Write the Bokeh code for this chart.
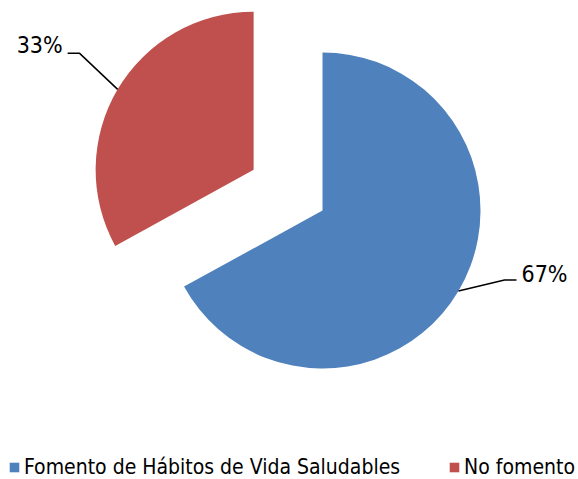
import math
from bokeh.plotting import figure
from bokeh.models import Range1d, Legend, LegendItem
from bokeh.core.properties import value
from bokeh.embed import file_html
from bokeh.resources import INLINE

categories = ["Fomento de Hábitos de Vida Saludables", "No fomento"]
shares = [67, 33]
colors = ["#4F81BD", "#C0504D"]

FONT = "DejaVu Sans Condensed"

W, H = 578, 479
p = figure(width=W, height=H, output_backend="svg", toolbar_location=None,
           x_range=Range1d(0, W), y_range=Range1d(0, H),
           min_border=0, outline_line_color=None)
p.axis.visible = False
p.grid.visible = False
p.background_fill_color = "white"

# layout (reference pixel coordinates -> data: y = 479 - y_ref)
cx, cy = 322, 479 - 210
R = 158
explode = [0, 80]
total = sum(shares)

renderers = []
start = 90.0
for i, (cat, v, col) in enumerate(zip(categories, shares, colors)):
    sweep = 360.0 * v / total
    end = start - sweep
    mid = math.radians((start + end) / 2)
    ox = cx + explode[i] * math.cos(mid)
    oy = cy + explode[i] * math.sin(mid)
    r = p.wedge(x=[ox], y=[oy], radius=R, start_angle=[math.radians(end)],
                end_angle=[math.radians(start)], fill_color=col, line_color=None)
    renderers.append(r)
    # leader line and label
    ex, ey = ox + R * math.cos(mid), oy + R * math.sin(mid)
    sgn = 1 if math.cos(mid) > 0 else -1
    elx = ex + (46 if sgn > 0 else -38)
    ely = ey + 11 if sgn > 0 else ey + 36
    enx = elx + sgn * 12
    p.line([ex, elx, enx], [ey, ely, ely], line_color="black", line_width=1.5)
    p.text(x=[enx + sgn * 5], y=[ely + 6 if sgn > 0 else ely + 8],
           text=[f"{v}%"], text_font=value(FONT), text_font_size="23px",
           text_align="left" if sgn > 0 else "right", text_baseline="middle",
           text_color="black")
    start = end

legend = Legend(items=[LegendItem(label=c, renderers=[r]) for c, r in zip(categories, renderers)],
                orientation="horizontal", location=(8, 0),
                label_text_font=FONT, label_text_font_size="21px",
                glyph_width=12, glyph_height=12, label_standoff=4, spacing=48,
                border_line_color=None, background_fill_alpha=0, padding=0, margin=0,
                label_text_color="black")
p.add_layout(legend)

open("out.html", "w").write(file_html(p, INLINE))
